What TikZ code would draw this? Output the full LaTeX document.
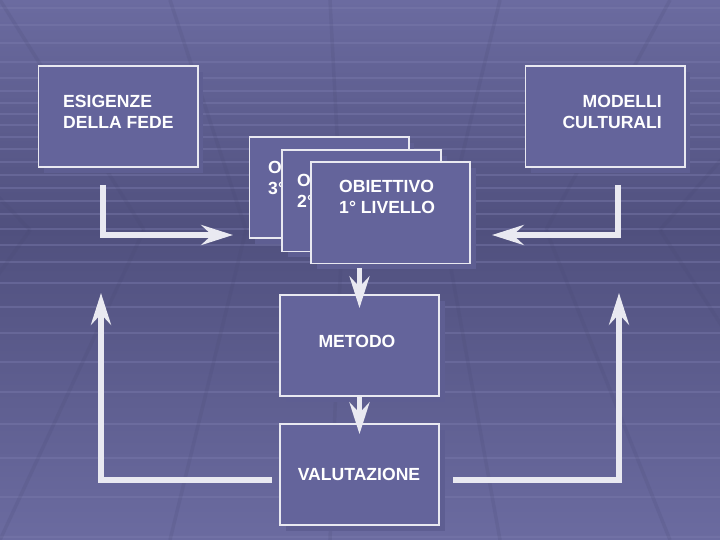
\documentclass[tikz,border=0pt]{standalone}
\usepackage{fontspec}
\setmainfont{Liberation Sans}
\usetikzlibrary{arrows.meta,calc,positioning,shadows}
\definecolor{Dusk}{HTML}{50507E}
\definecolor{Haze}{HTML}{6B6BA0}
\definecolor{Panel}{HTML}{64649B}
\definecolor{Shade}{HTML}{5E5E92}
\definecolor{Chalk}{HTML}{E9E9F1}
\definecolor{Grid}{HTML}{7A7AAC}
\definecolor{Seam}{HTML}{46466F}

\begin{document}
\begin{tikzpicture}[x=0.03cm,y=-0.03cm,
    card/.style={draw=Chalk,line width=1.7pt,fill=Panel,inner sep=0pt,
      minimum width=4.77cm,minimum height=3.03cm,text=white,
      font=\fontsize{15}{18}\selectfont\bfseries,
      drop shadow={shadow xshift=5pt,shadow yshift=-5pt,fill=Shade,opacity=1}},
    caption/.style={inner sep=0pt,text=white,font=\fontsize{15}{18}\selectfont\bfseries},
    flow/.style={draw=Chalk,line width=5pt,-{Stealth[length=27pt,width=17pt,inset=9pt]}}]
    \useasboundingbox (0,0) rectangle (720,540);
    % backdrop
    \begin{scope}
      \clip (0,0) rectangle (720,540);
      \shade[top color=Haze,bottom color=Dusk] (0,0) rectangle (720,230);
      \shade[top color=Dusk,bottom color=Haze] (0,230) rectangle (720,540);
      \foreach \y in {8,25,43,62,78,91,103,114,125,137,149,162,175,188,201,214,229,245,262,283,307,333,362,392,424,458,497,537}
        {\draw[Grid,line width=1.3pt,opacity=.45] (0,\y) -- (720,\y);}
      \foreach \x in {-700,-420,-190,0,170,330,500,670,860,1100,1400}{
        \draw[Seam,line width=3pt,opacity=.15] ({360+(\x-360)*0.6},230) -- (\x,540);
        \draw[Seam,line width=3pt,opacity=.15] ({360+(\x-360)*0.6},230) -- (\x,0);}
    \end{scope}

    % side boxes
    \node[card] (fede) at (118,116.5) {};
    \node[caption,anchor=north west,align=left] (fedetxt) at (63,95) {ESIGENZE\\DELLA FEDE};
    \node[card] (modelli) at (605,116.5) {};
    \node[caption,anchor=north east,align=right] (modellitxt) at (662,95) {MODELLI\\CULTURALI};

    % stacked goals
    \node[card] (ob3) at (329,187.5) {};
    \node[caption,anchor=north west,align=left] (ob3txt) at (268,161) {O\\3°};
    \node[card] (ob2) at (361.5,201) {};
    \node[caption,anchor=north west,align=left] (ob2txt) at (297,174) {O\\2°};
    \node[card] (ob1) at (390.5,213) {};
    \node[caption,anchor=north west,align=left] (ob1txt) at (339,180) {OBIETTIVO\\1° LIVELLO};

    \node[card] (metodo) at (359.5,345.5) {};
    \node[caption] (metodotxt) at (357,341) {METODO};
    \node[card] (val) at (359.5,474.5) {};
    \node[caption] (valtxt) at (359,474) {VALUTAZIONE};

    % connectors
    \coordinate (fedeout) at (103,185);
    \coordinate (fedein) at (233,235);
    \coordinate (modout) at (618,185);
    \coordinate (modin) at (492,235);
    \coordinate (valleft) at (272,480);
    \coordinate (backleft) at (101,293);
    \coordinate (valright) at (453,480);
    \coordinate (backright) at (619,293);
    \draw[flow] (fedeout) |- (fedein);
    \draw[flow] (modout) |- (modin);
    \draw[flow] ([yshift=-3pt]ob1.south -| metodo.north) -- ([yshift=-12pt]metodo.north);
    \draw[flow] (metodo.south) -- ([yshift=-9.5pt]val.north);
    \draw[flow] (valleft) -| (backleft);
    \draw[flow] (valright) -| (backright);
\end{tikzpicture}
\end{document}
